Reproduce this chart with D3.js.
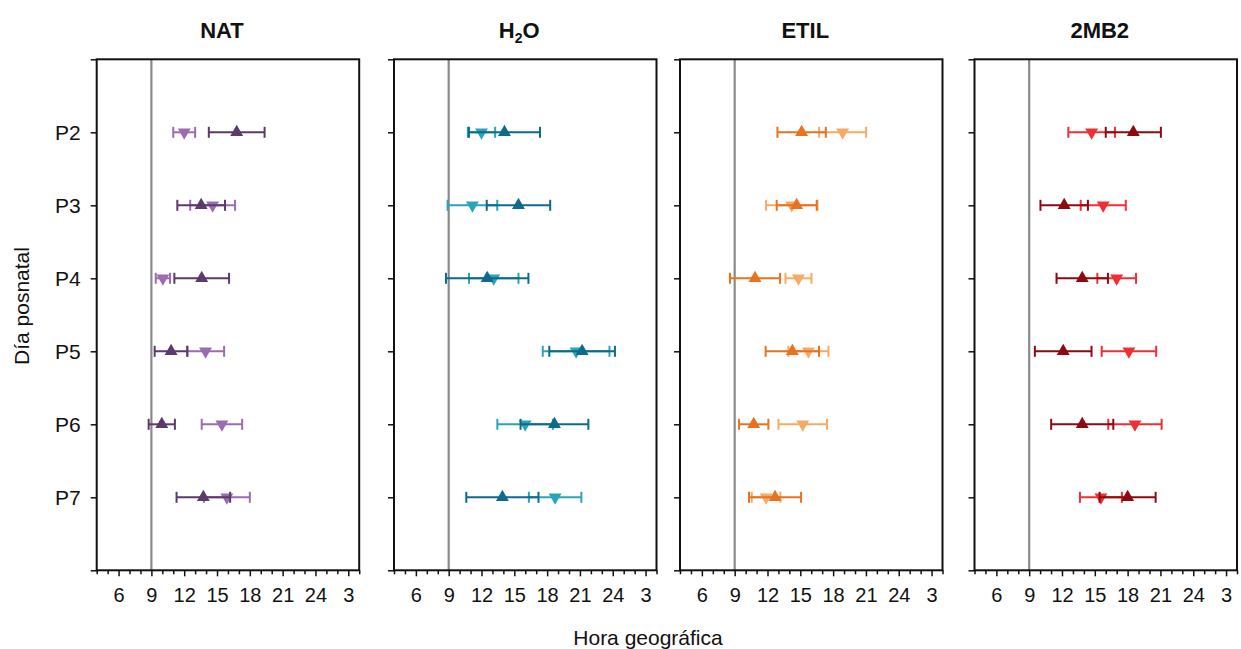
<!DOCTYPE html>
<html>
<head>
<meta charset="utf-8">
<script src="https://cdn.jsdelivr.net/npm/d3@7"></script>
<style>
  html, body { margin: 0; padding: 0; background: #fff; }
  svg { display: block; font-family: "Liberation Sans", Arial, sans-serif; }
</style>
</head>
<body>
<svg id="chart" width="1241" height="649"></svg>
<script>
// Postnatal days (rows) and treatment groups (panels)
const days = ["P2", "P3", "P4", "P5", "P6", "P7"];
const dayIndex = [2, 3, 4, 5, 6, 7];
const groups = ["NAT", "H2O", "ETIL", "2MB2"];

// Hour-axis ticks (geographic hour, values above 24 wrap to next day)
const hourMajorTicks = [6, 9, 12, 15, 18, 21, 24, 27];
const hourMajorLabels = ["6", "9", "12", "15", "18", "21", "24", "3"];
const referenceHour = 9;

// Acrophase (mean) and error, per day; "up" = ▲ series, "down" = ▼ series
const natUpMean   = [16.8, 13.55, 13.6, 10.8, 9.95, 13.75];
const natUpErr    = [2.55, 2.18, 2.5, 1.5, 1.2, 2.45];
const natDownMean = [12.0, 14.6, 10.05, 13.95, 15.45, 15.9];
const natDownErr  = [1.0, 2.05, 0.65, 1.7, 1.85, 2.1];

const h2oUpMean   = [14.1, 15.38, 12.52, 21.2, 18.67, 13.91];
const h2oUpErr    = [3.25, 2.9, 3.77, 3.0, 3.1, 3.3];
const h2oDownMean = [12.0, 11.17, 13.12, 20.65, 15.99, 18.73];
const h2oDownErr  = [1.25, 2.27, 2.26, 3.05, 2.54, 2.4];

const etilUpMean   = [15.12, 14.67, 10.86, 14.27, 10.74, 12.69];
const etilUpErr    = [2.21, 1.83, 2.29, 2.44, 1.34, 2.38];
const etilDownMean = [18.87, 14.22, 14.83, 15.74, 15.22, 11.87];
const etilDownErr  = [2.15, 2.35, 1.19, 1.83, 2.22, 1.31];

const mb2UpMean   = [18.52, 12.2, 13.85, 12.11, 13.85, 18.0];
const mb2UpErr    = [2.52, 2.17, 2.35, 2.59, 2.84, 2.56];
const mb2DownMean = [14.71, 15.77, 17.0, 18.12, 18.67, 15.56];
const mb2DownErr  = [2.13, 2.06, 1.77, 2.49, 2.44, 1.92];

const upColors   = ["#5c3a6c", "#0e6a8a", "#e8721f", "#8c0a10"];
const downColors = ["#9a6cb2", "#2ba4b8", "#f6aa66", "#ee2f34"];

const seriesByGroup = [
  { up: [natUpMean, natUpErr],   down: [natDownMean, natDownErr] },
  { up: [h2oUpMean, h2oUpErr],   down: [h2oDownMean, h2oDownErr] },
  { up: [etilUpMean, etilUpErr], down: [etilDownMean, etilDownErr] },
  { up: [mb2UpMean, mb2UpErr],   down: [mb2DownMean, mb2DownErr] }
];

const svg = d3.select("#chart");
const panelLefts = [96.7, 394, 680, 974.5];
const panelWidth = 262.5;
const plotTop = 59.3, plotBottom = 570.3;

const y = d3.scaleLinear().domain([1, 8]).range([plotTop, plotBottom]);
const triUp = d3.symbol().type(d3.symbolTriangle).size(72)();

groups.forEach((g, gi) => {
  const left = panelLefts[gi];
  const x = d3.scaleLinear().domain([4, 28]).range([0, panelWidth]);
  const panel = svg.append("g").attr("transform", `translate(${left},0)`);

  // Title
  const title = panel.append("text")
    .attr("x", panelWidth / 2 - 6)
    .attr("y", 38)
    .attr("text-anchor", "middle")
    .attr("font-weight", "bold")
    .attr("font-size", 22)
    .attr("fill", "#111");
  if (g === "H2O") {
    title.append("tspan").text("H");
    title.append("tspan").attr("font-size", 14).attr("dy", 5).text("2");
    title.append("tspan").attr("dy", -5).text("O");
  } else {
    title.text(g);
  }

  // Reference line at 9 h
  panel.append("line")
    .attr("x1", x(referenceHour)).attr("x2", x(referenceHour))
    .attr("y1", plotTop).attr("y2", plotBottom)
    .attr("stroke", "#8a8a8a").attr("stroke-width", 2.2);

  // Frame
  panel.append("rect")
    .attr("x", 0).attr("y", plotTop)
    .attr("width", panelWidth).attr("height", plotBottom - plotTop)
    .attr("fill", "none").attr("stroke", "#111").attr("stroke-width", 2);

  // Bottom axis: minor ticks every hour, majors every 3 h
  const xMinor = d3.axisBottom(x)
    .tickValues(d3.range(4, 29).filter(v => !hourMajorTicks.includes(v)))
    .tickSize(4).tickFormat("");
  const xMajor = d3.axisBottom(x)
    .tickValues(hourMajorTicks)
    .tickSize(6).tickPadding(12)
    .tickFormat((d, i) => hourMajorLabels[i]);
  [xMinor, xMajor].forEach(ax => {
    const a = panel.append("g").attr("transform", `translate(0,${plotBottom})`).call(ax);
    a.select(".domain").remove();
    a.selectAll("line").attr("stroke", "#111").attr("stroke-width", 1.5);
    a.selectAll("text").attr("font-size", 20).attr("fill", "#111")
      .attr("font-family", "'Liberation Sans', Arial, sans-serif");
  });

  // Left axis: ticks at 1..8, labels only for the days
  const yAx = d3.axisLeft(y)
    .tickValues(d3.range(1, 9))
    .tickSize(6).tickPadding(10)
    .tickFormat(d => (dayIndex.includes(d) ? days[dayIndex.indexOf(d)] : ""));
  const ya = panel.append("g").call(yAx);
  ya.select(".domain").remove();
  ya.selectAll("line").attr("stroke", "#111").attr("stroke-width", 1.5);
  ya.selectAll("text").attr("font-size", 21).attr("fill", "#111")
    .attr("font-family", "'Liberation Sans', Arial, sans-serif");
  if (gi > 0) ya.selectAll("text").remove();

  // Series: ▼ first, ▲ drawn on top
  const s = seriesByGroup[gi];
  [["down", downColors[gi]], ["up", upColors[gi]]].forEach(([key, color]) => {
    const [means, errs] = s[key];
    const rows = means.map((m, i) => ({ m, e: errs[i], d: dayIndex[i] }));
    const sg = panel.append("g");
    rows.forEach(r => {
      const yy = y(r.d);
      sg.append("line")
        .attr("x1", x(r.m - r.e)).attr("x2", x(r.m + r.e))
        .attr("y1", yy).attr("y2", yy)
        .attr("stroke", color).attr("stroke-width", 2);
      [r.m - r.e, r.m + r.e].forEach(v => {
        sg.append("line")
          .attr("x1", x(v)).attr("x2", x(v))
          .attr("y1", yy - 5.5).attr("y2", yy + 5.5)
          .attr("stroke", color).attr("stroke-width", 2);
      });
      sg.append("path")
        .attr("d", triUp)
        .attr("transform", key === "up"
          ? `translate(${x(r.m)},${yy})`
          : `translate(${x(r.m)},${yy}) rotate(180)`)
        .attr("fill", color);
    });
  });
});

// Axis titles
svg.append("text")
  .attr("x", 648).attr("y", 645)
  .attr("text-anchor", "middle")
  .attr("font-size", 21).attr("fill", "#111")
  .text("Hora geográfica");

svg.append("text")
  .attr("transform", "translate(29,306) rotate(-90)")
  .attr("text-anchor", "middle")
  .attr("font-size", 21).attr("fill", "#111")
  .text("Día posnatal");
</script>
</body>
</html>
